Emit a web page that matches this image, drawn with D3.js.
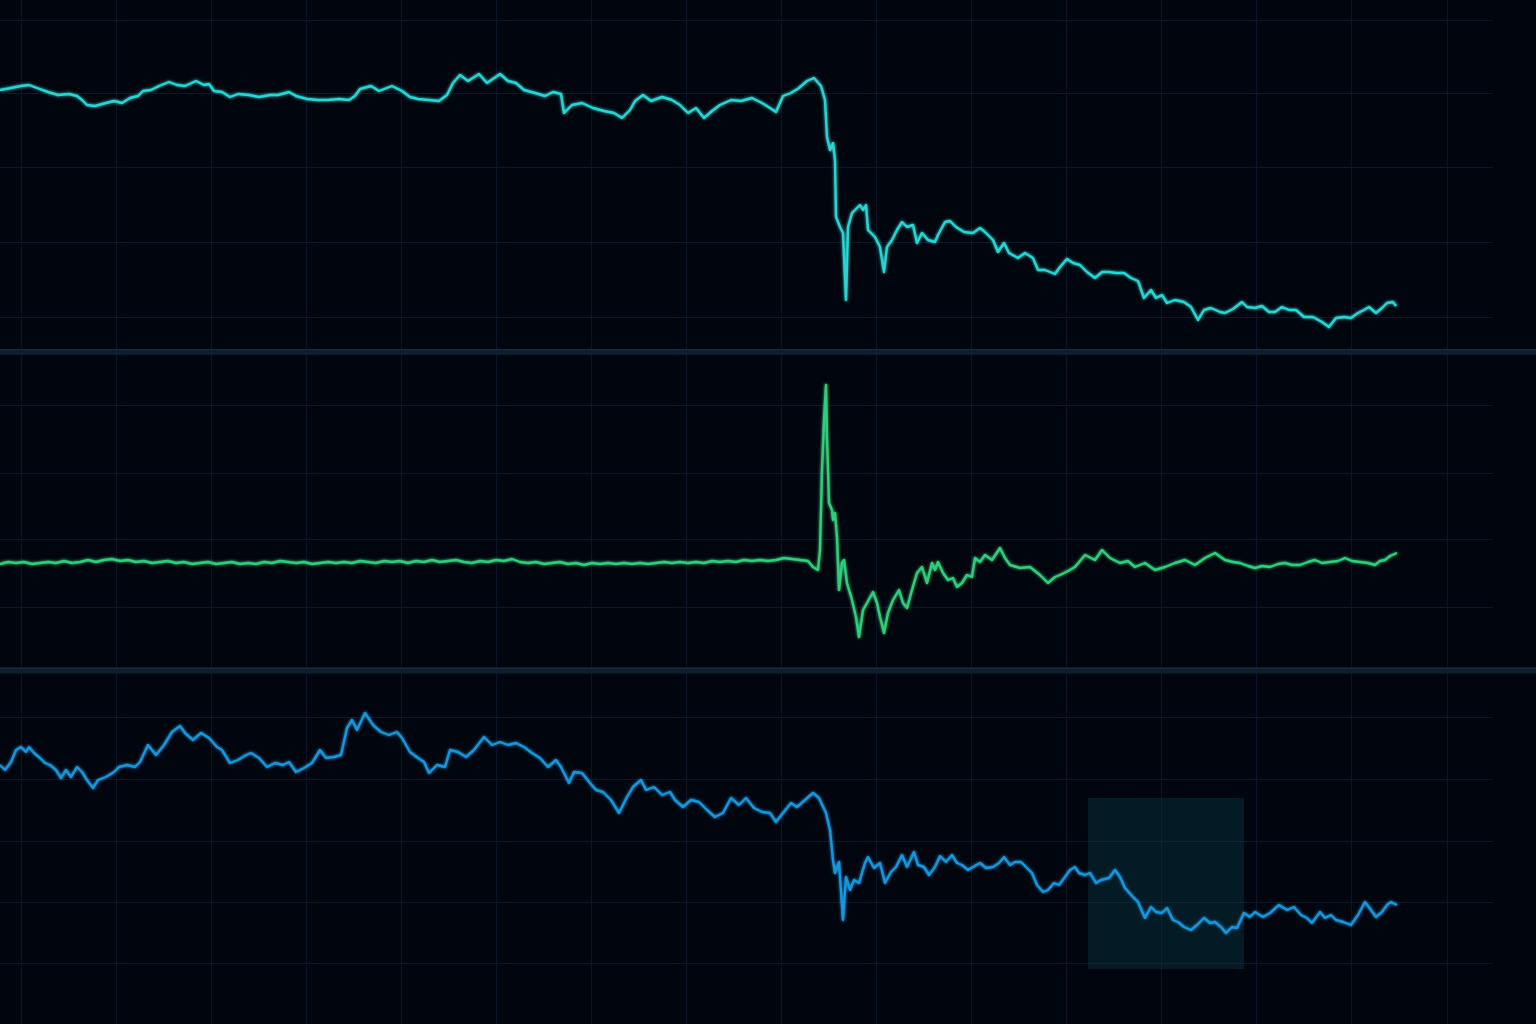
<!DOCTYPE html>
<html>
<head>
<meta charset="utf-8">
<script src="https://cdn.jsdelivr.net/npm/d3@7"></script>
<style>
  html, body { margin: 0; padding: 0; background: #01060e; }
  svg { display: block; }
</style>
</head>
<body>
<svg id="chart" width="1536" height="1024"></svg>
<script>
// ---------- DATA (time in minutes) ----------
const t1 = [0,11,21,29,37,48,58,69,77,82,87,95,106,114,122,130,138,143,151,159,169,177,185,196,204,209,214,222,230,238,249,259,270,278,289,296,307,318,328,339,349,355,360,371,379,392,402,410,418,429,439,447,453,460,468,479,487,500,508,516,524,535,545,553,561,564,572,582,593,604,614,622,630,635,643,651,662,672,680,688,696,704,712,720,731,741,752,762,770,776,783,791,799,807,814,821,825,827,830,833,835,836,840,843,846,848,852,860,863,866,868,875,880,884,887,892,897,902,907,913,917,922,928,935,938,945,950,956,964,973,980,985,993,998,1004,1009,1018,1025,1033,1038,1045,1055,1060,1067,1073,1080,1087,1095,1102,1109,1116,1124,1131,1138,1144,1151,1156,1162,1167,1175,1184,1191,1198,1204,1211,1220,1225,1233,1242,1247,1255,1262,1269,1275,1282,1289,1296,1304,1313,1322,1329,1336,1344,1351,1358,1364,1369,1376,1382,1387,1393,1396];
const price = [310,312,314,315,312,308,305,306,304,300,295,294,297,299,297,302,304,309,310,314,318,315,314,319,315,316,309,308,303,306,305,303,305,305,308,304,301,300,300,301,300,304,311,314,309,314,309,303,301,300,299,305,317,325,319,326,317,326,319,317,310,307,304,308,306,287,295,297,292,289,287,282,290,299,305,299,303,300,295,287,292,282,289,295,300,299,302,297,292,288,304,307,312,319,322,314,300,263,250,257,240,183,173,167,100,173,187,195,190,195,170,163,153,128,153,160,170,178,173,175,157,167,160,158,165,178,179,173,168,167,172,168,160,148,157,147,142,147,142,130,130,126,133,141,137,135,128,122,128,128,127,127,122,119,102,110,102,105,97,100,98,93,80,90,92,88,87,91,98,93,92,94,88,88,93,90,90,83,83,78,73,82,83,82,87,90,93,87,92,97,98,94];

const t2 = [0,8,16,24,32,40,48,56,64,72,80,88,96,104,112,120,128,136,144,152,160,168,176,184,192,200,208,216,224,232,240,248,256,264,272,280,288,296,304,312,320,328,336,344,352,360,368,376,384,392,400,408,416,424,432,440,448,456,464,472,480,488,496,504,512,520,528,536,544,552,560,568,576,584,592,600,608,616,624,632,640,648,656,664,672,680,688,696,704,712,720,728,736,744,752,760,768,776,784,792,800,808,813,818,820,822,824,826,827,829,832,833,835,837,839,842,844,847,852,856,859,863,867,873,877,880,884,888,893,899,903,907,912,917,922,927,932,935,938,943,948,953,957,962,967,972,975,980,985,992,1000,1005,1010,1020,1030,1040,1048,1055,1060,1068,1075,1085,1095,1102,1110,1120,1128,1135,1145,1155,1165,1175,1185,1195,1205,1215,1225,1233,1240,1248,1255,1262,1270,1278,1285,1292,1300,1308,1315,1322,1330,1338,1345,1352,1360,1368,1375,1380,1385,1390,1397];
const spread = [-1,1,0,1,-1,0,1,0,2,0,1,3,1,3,4,2,3,1,2,0,1,2,0,1,-1,0,1,-1,0,1,-1,0,-1,1,0,2,1,0,1,-1,0,1,0,1,0,2,1,0,2,1,2,0,2,1,3,1,2,3,1,0,2,1,3,2,4,1,0,1,-1,0,1,-1,0,-2,0,-1,0,-1,0,-1,0,-1,0,1,0,1,0,1,0,2,1,2,1,3,2,3,2,3,5,4,3,2,-4,-7,13,93,143,178,126,60,53,43,50,26,-27,0,3,-20,-37,-54,-74,-47,-40,-29,-40,-54,-70,-50,-37,-27,-40,-45,-27,-10,-4,-20,0,-7,1,-10,-17,-15,-24,-20,-12,-14,5,1,8,3,15,5,-2,-5,-4,-12,-20,-14,-12,-8,-4,8,3,13,5,0,2,-4,0,-7,-4,0,3,-2,5,10,3,1,0,-3,-5,-3,-4,-1,0,-2,-2,1,3,0,1,2,5,2,1,0,-2,2,3,7,10];

const t3 = [0,5,11,16,21,26,29,34,40,45,50,56,61,66,71,77,82,87,93,98,106,114,119,127,135,140,148,156,164,172,180,185,193,201,209,217,222,230,238,246,251,259,267,275,283,289,296,304,312,320,326,334,341,347,352,357,365,373,381,389,397,402,410,418,424,429,437,445,450,458,466,474,484,492,500,508,516,524,532,540,548,556,561,569,574,582,590,596,603,611,619,627,633,641,646,654,662,670,675,683,691,699,707,715,723,731,739,746,754,762,770,776,783,791,797,805,813,819,826,830,833,835,839,843,846,850,854,859,865,868,874,880,885,891,896,902,907,914,918,924,929,935,940,946,952,957,962,968,973,980,986,993,999,1004,1010,1015,1021,1026,1032,1037,1043,1048,1054,1059,1065,1070,1075,1079,1085,1090,1096,1101,1109,1115,1120,1125,1133,1138,1145,1151,1156,1162,1167,1173,1178,1184,1191,1197,1204,1210,1215,1221,1226,1232,1237,1244,1250,1255,1263,1270,1279,1287,1294,1301,1307,1312,1320,1325,1331,1336,1343,1351,1358,1365,1371,1376,1382,1387,1391,1397];
const level = [235,230,238,250,253,248,253,247,242,237,235,230,222,230,223,233,228,220,212,220,223,228,233,235,233,238,255,245,255,268,274,267,260,267,262,253,250,237,240,245,247,242,233,237,235,238,228,232,237,250,242,243,245,272,280,270,287,275,268,265,268,262,248,242,238,227,235,233,250,248,243,250,263,255,258,255,257,253,247,242,233,240,233,217,228,227,217,210,208,200,187,203,213,220,210,213,205,208,200,193,200,198,190,183,187,202,195,202,192,188,187,178,187,197,193,200,207,202,187,170,140,127,138,80,123,110,120,117,137,143,132,137,117,128,133,145,133,148,135,133,125,133,144,138,145,137,135,130,133,137,132,133,137,143,135,138,138,133,127,115,108,110,117,115,123,130,133,127,125,127,117,120,122,130,123,112,103,98,82,93,88,87,92,80,78,73,70,75,82,77,78,73,67,73,72,87,83,88,83,87,95,90,93,85,82,77,88,82,85,80,78,75,85,98,90,83,88,95,98,95];

// highlighted window on panel 3 (minutes / level units)
const highlightT = [1088, 1244];
const highlightV = [202, 31];

// grid tick values
const gridT = [21,116,211,306,401,496,591,686,781,876,971,1066,1161,1256,1351,1447];
const grid1 = [380, 306.75, 233, 158, 83];
const grid2 = [158, 90, 24, -44];
const grid3 = [283, 221, 159, 98, 37];

// ---------- LAYOUT ----------
const W = 1536, H = 1024;
const gridRight = 1493;
const panels = [
  { t: t1, v: price,  domain: [83, 380],  range: [317, 20],  grid: grid1, color: "#27d6d4" },
  { t: t2, v: spread, domain: [-44, 158], range: [607, 405], grid: grid2, color: "#2fcf7c" },
  { t: t3, v: level,  domain: [37, 283],  range: [963, 717], grid: grid3, color: "#1796dc" }
];
const separators = [349, 667.5];

const svg = d3.select("#chart");
const defs = svg.append("defs");
const glow = defs.append("filter").attr("id", "glow").attr("x", "-5%").attr("y", "-5%").attr("width", "110%").attr("height", "110%");
glow.append("feGaussianBlur").attr("stdDeviation", 1.4).attr("result", "b");
const merge = glow.append("feMerge");
merge.append("feMergeNode").attr("in", "b");
merge.append("feMergeNode").attr("in", "SourceGraphic");

svg.append("rect").attr("width", W).attr("height", H).attr("fill", "#01060e");

const x = d3.scaleLinear().domain([0, W]).range([0, W]);

// vertical grid
svg.append("g").selectAll("line").data(gridT).join("line")
  .attr("x1", d => x(d) + 0.5).attr("x2", d => x(d) + 0.5)
  .attr("y1", 0).attr("y2", H)
  .attr("stroke", "#091524").attr("stroke-width", 1.2);

panels.forEach((p, i) => {
  const y = d3.scaleLinear().domain(p.domain).range(p.range);
  svg.append("g").selectAll("line").data(p.grid).join("line")
    .attr("x1", 0).attr("x2", gridRight)
    .attr("y1", d => Math.round(y(d)) + 0.5).attr("y2", d => Math.round(y(d)) + 0.5)
    .attr("stroke", "#0a1829").attr("stroke-width", 1.2);

  if (i === 2) {
    svg.append("rect")
      .attr("x", x(highlightT[0])).attr("width", x(highlightT[1]) - x(highlightT[0]))
      .attr("y", y(highlightV[0])).attr("height", y(highlightV[1]) - y(highlightV[0]))
      .attr("fill", "#0b3c4a").attr("fill-opacity", 0.38);
  }

  const data = p.t.map((t, k) => [t, p.v[k]]);
  const line = d3.line().x(d => x(d[0])).y(d => y(d[1]));
  svg.append("path").datum(data)
    .attr("d", line)
    .attr("fill", "none")
    .attr("stroke", p.color)
    .attr("stroke-width", 2.4)
    .attr("stroke-linejoin", "round")
    .attr("filter", "url(#glow)");
});

// panel separators
separators.forEach(s => {
  svg.append("rect").attr("x", 0).attr("y", s).attr("width", W).attr("height", 6)
    .attr("fill", "#0c1f2e");
  svg.append("rect").attr("x", 0).attr("y", s).attr("width", W).attr("height", 1.5)
    .attr("fill", "#15324a").attr("opacity", 0.6);
});
</script>
</body>
</html>
